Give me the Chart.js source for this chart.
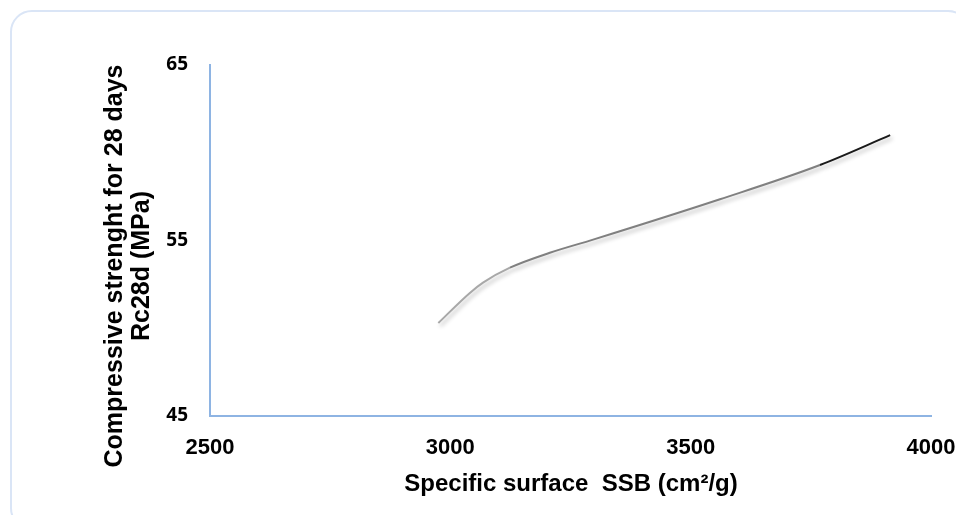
<!DOCTYPE html>
<html>
<head>
<meta charset="utf-8">
<script src="https://cdn.jsdelivr.net/npm/chart.js@4.4.1/dist/chart.umd.min.js"></script>
<style>
  html, body { margin: 0; padding: 0; background: #fff; overflow: hidden; }
  #wrap { position: relative; width: 956px; height: 515px; overflow: hidden; }
  #frame {
    position: absolute; left: 10px; top: 10px; width: 960px; height: 520px;
    border: 2px solid #dae5f6; border-radius: 22px; box-sizing: border-box;
  }
  canvas { position: absolute; left: 0; top: 0; }
</style>
</head>
<body>
<div id="wrap">
  <div id="frame"></div>
  <canvas id="chart" width="956" height="515"></canvas>
</div>
<script>
// values
const surface = [2975, 3040, 3068, 3124, 3207, 3297, 3561, 3769, 3915];
const strength = [50.3, 52.0, 52.6, 53.45, 54.3, 55.05, 57.35, 59.3, 61.0];
const xTicks = [2500, 3000, 3500, 4000];
const yTicks = [45, 55, 65];

const points = surface.map((x, i) => ({ x: x, y: strength[i] }));

// soft drop shadow under the curve
const shadowLine = {
    id: "shadowLine",
    beforeDatasetDraw(chart) {
        const ctx = chart.ctx;
        ctx.save();
        ctx.shadowColor = "rgba(0,0,0,0.28)";
        ctx.shadowBlur = 4;
        ctx.shadowOffsetX = 2;
        ctx.shadowOffsetY = 3;
    },
    afterDatasetDraw(chart) {
        chart.ctx.restore();
    }
};

// axis titles drawn by hand (two line rotated y title)
const axisTitles = {
    id: "axisTitles",
    afterDraw(chart) {
        const ctx = chart.ctx;
        ctx.save();
        ctx.fillStyle = "#000";
        ctx.textAlign = "center";
        ctx.textBaseline = "middle";
        ctx.font = "bold 24px 'Liberation Sans', Arial, sans-serif";
        ctx.fillText("Specific surface  SSB (cm\u00B2/g)", 571, 484);
        ctx.font = "bold 25px 'Liberation Sans', Arial, sans-serif";
        ctx.translate(129, 266);
        ctx.rotate(-Math.PI / 2);
        ctx.fillText("Compressive strenght for 28 days", 0, -13.5);
        ctx.fillText("Rc28d (MPa)", 0, 13.5);
        ctx.restore();
    }
};

new Chart(document.getElementById("chart"), {
    type: "line",
    data: {
        datasets: [{
            data: points,
            borderColor: "#8a8a8a",
            borderWidth: 2,
            pointRadius: 0,
            cubicInterpolationMode: "monotone",
            fill: false,
            segment: {
                borderColor: (c) => c.p0.parsed.x >= 3760 ? "#1a1a1a" : (c.p0.parsed.x < 3100 ? "#a8a8a8" : "#808080")
            }
        }]
    },
    options: {
        responsive: false,
        animation: false,
        layout: { padding: { left: 0, top: 65, right: 0, bottom: 0 } },
        scales: {
            x: {
                type: "linear",
                min: 2500,
                max: 4000,
                afterBuildTicks: (s) => { s.ticks = xTicks.map(v => ({ value: v })); },
                afterFit: (s) => { s.height = 99; s.paddingRight = 25; s.paddingLeft = 0; },
                grid: { drawOnChartArea: false, drawTicks: false, color: "#8eb4e3" },
                border: { color: "#8eb4e3", width: 2 },
                ticks: {
                    padding: 19,
                    color: "#000",
                    callback: (v) => String(v),
                    font: { family: "'Liberation Sans Narrow', 'Arial Narrow', 'Liberation Sans', sans-serif", size: 22, weight: "bold" }
                }
            },
            y: {
                min: 45,
                max: 65,
                afterBuildTicks: (s) => { s.ticks = yTicks.map(v => ({ value: v })); },
                afterFit: (s) => { s.width = 210; },
                grid: { drawOnChartArea: false, drawTicks: false, color: "#8eb4e3" },
                border: { color: "#8eb4e3", width: 2 },
                ticks: {
                    padding: 22,
                    color: "#000",
                    callback: (v) => String(v),
                    font: { family: "'Open Sans', sans-serif", size: 19, weight: "bold" }
                }
            }
        },
        plugins: {
            legend: { display: false },
            tooltip: { enabled: false }
        }
    },
    plugins: [shadowLine, axisTitles]
});
</script>
</body>
</html>
